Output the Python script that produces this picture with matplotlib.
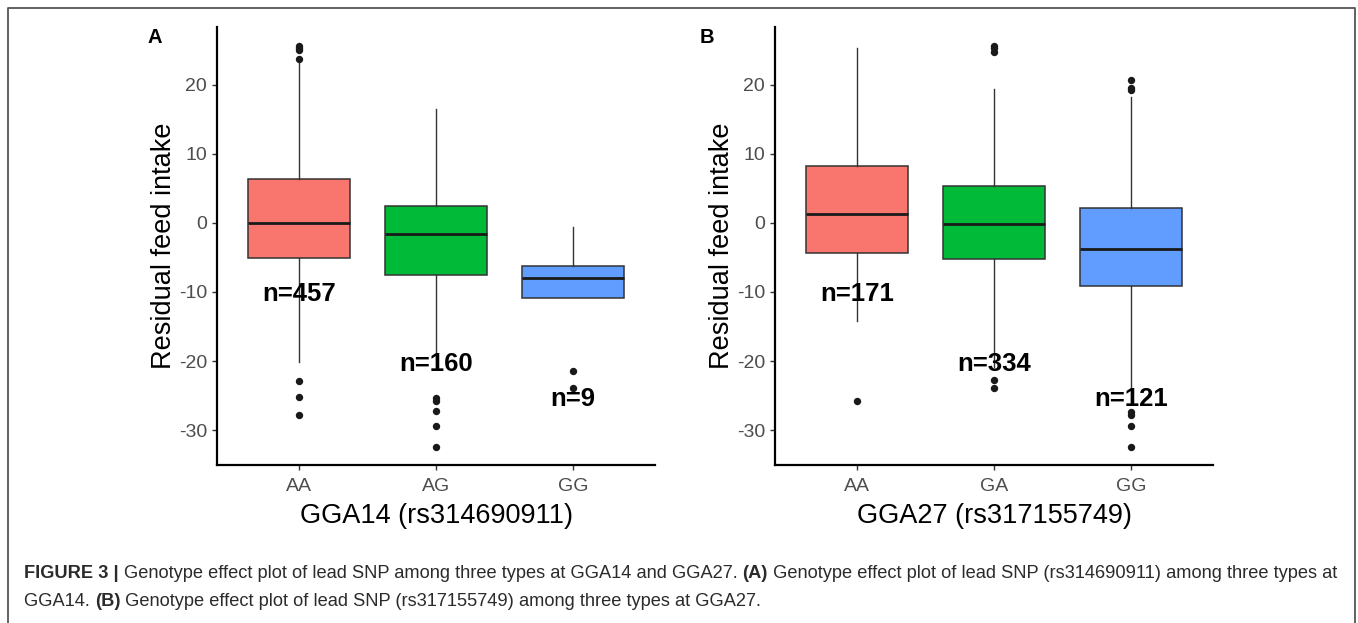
import matplotlib
matplotlib.use('Agg')
import matplotlib.pyplot as plt
from matplotlib.lines import Line2D

plt.rcParams['font.family'] = ['Liberation Sans', 'DejaVu Sans']
plt.rcParams['axes.unicode_minus'] = False

# ---------------- data ----------------
genotypes_a = ['AA', 'AG', 'GG']
a_q1 = [-5.1, -7.5, -10.9]
a_med = [0.0, -1.6, -8.0]
a_q3 = [6.4, 2.5, -6.2]
a_whislo = [-20.1, -20.8, -10.9]
a_whishi = [23.4, 16.5, -0.6]
a_fliers = [[23.8, 25.0, 25.4, 25.7, -22.9, -25.2, -27.8],
            [-25.4, -25.8, -27.3, -29.4, -32.4],
            [-21.4, -23.9]]
a_n = [457, 160, 9]
a_n_y = [-10.3, -20.4, -25.5]
a_xlabel = 'GGA14 (rs314690911)'

genotypes_b = ['AA', 'GA', 'GG']
b_q1 = [-4.3, -5.2, -9.1]
b_med = [1.3, -0.1, -3.8]
b_q3 = [8.3, 5.4, 2.2]
b_whislo = [-14.2, -20.8, -26.0]
b_whishi = [25.4, 19.4, 18.3]
b_fliers = [[-25.8],
            [24.8, 25.4, 25.7, -22.7, -23.9],
            [19.3, 19.6, 20.7, -27.4, -27.8, -29.4, -32.4]]
b_n = [171, 334, 121]
b_n_y = [-10.3, -20.4, -25.5]
b_xlabel = 'GGA27 (rs317155749)'

y_ticks = [-30, -20, -10, 0, 10, 20]
ylabel = 'Residual feed intake'
fill_colors = ['#F8766D', '#00BA38', '#619CFF']

caption_line1 = [('FIGURE 3 | ', 'bold'),
                 ('Genotype effect plot of lead SNP among three types at GGA14 and GGA27. ', 'normal'),
                 ('(A)', 'bold'),
                 (' Genotype effect plot of lead SNP (rs314690911) among three types at', 'normal')]
caption_line2 = [('GGA14. ', 'normal'),
                 ('(B)', 'bold'),
                 (' Genotype effect plot of lead SNP (rs317155749) among three types at GGA27.', 'normal')]

# ---------------- figure ----------------
W, H = 1358, 623
fig = plt.figure(figsize=(W / 100, H / 100), dpi=100)


def px_axes(l, t, r, b):
    return fig.add_axes([l / W, 1 - b / H, (r - l) / W, (b - t) / H])


def draw_panel(ax, cats, q1, med, q3, lo, hi, fliers, ns, n_y, xlabel):
    stats = []
    for c, a, m, b, l, h, f in zip(cats, q1, med, q3, lo, hi, fliers):
        stats.append(dict(label=c, q1=a, med=m, q3=b, whislo=l, whishi=h, fliers=f))
    pos = list(range(1, len(cats) + 1))
    res = ax.bxp(stats, positions=pos, widths=0.75, patch_artist=True,
                 showfliers=True, showcaps=False,
                 boxprops=dict(edgecolor='#333333', linewidth=1.1),
                 medianprops=dict(color='#1a1a1a', linewidth=2.0, solid_capstyle='butt'),
                 whiskerprops=dict(color='#333333', linewidth=1.0),
                 flierprops=dict(marker='o', markerfacecolor='#1a1a1a',
                                 markeredgecolor='#1a1a1a', markersize=4.3))
    for patch, col in zip(res['boxes'], fill_colors):
        patch.set_facecolor(col)
    for p, n, yv in zip(pos, ns, n_y):
        ax.text(p, yv, f'n={n}', ha='center', va='center', fontsize=18.5,
                fontweight='bold', color='black', zorder=10)
    ax.set_xlim(0.4, 3.6)
    ax.set_ylim(-35.07, 28.4)
    ax.set_yticks(y_ticks)
    ax.set_yticklabels([str(v) for v in y_ticks])
    ax.set_xticks(pos)
    ax.set_xticklabels(cats)
    for s in ['top', 'right']:
        ax.spines[s].set_visible(False)
    for s in ['left', 'bottom']:
        ax.spines[s].set_linewidth(1.6)
        ax.spines[s].set_color('black')
    ax.tick_params(axis='both', length=3.6, width=1.0, color='#333333',
                   labelsize=14, labelcolor='#4d4d4d')
    ax.tick_params(axis='y', pad=3.5)
    ax.tick_params(axis='x', pad=5.5)
    ax.set_xlabel(xlabel, fontsize=19.5, color='black')
    ax.set_ylabel(ylabel, fontsize=19.5, color='black')
    ax.yaxis.set_label_coords(-0.092, 0.5)
    ax.xaxis.set_label_coords(0.5, -0.087)
    ax.set_facecolor('white')


axA = px_axes(217, 27, 655, 465)
draw_panel(axA, genotypes_a, a_q1, a_med, a_q3, a_whislo, a_whishi, a_fliers,
           a_n, a_n_y, a_xlabel)
axB = px_axes(775, 27, 1213, 465)
draw_panel(axB, genotypes_b, b_q1, b_med, b_q3, b_whislo, b_whishi, b_fliers,
           b_n, b_n_y, b_xlabel)

fig.text(155 / W, 1 - 43 / H, 'A', ha='center', va='baseline', fontsize=14.5,
         fontweight='bold')
fig.text(707 / W, 1 - 43 / H, 'B', ha='center', va='baseline', fontsize=14.5,
         fontweight='bold')

# border (open at the bottom)
border = Line2D([8 / W, 8 / W, 1355 / W, 1355 / W],
                [0, 1 - 8 / H, 1 - 8 / H, 0], transform=fig.transFigure,
                color='#555555', linewidth=1.3)
fig.add_artist(border)

# caption drawn piece by piece
renderer = fig.canvas.get_renderer()
cap_color = '#2b2b2b'


def line_width(pieces, size):
    total = 0
    for txt, wt in pieces:
        t = fig.text(0, 0, txt, fontsize=size, fontweight=wt)
        total += t.get_window_extent(renderer).width
        t.remove()
    return total


base_size = 12
w1 = line_width(caption_line1, base_size)
cap_size = base_size * (1316 / w1)


def draw_line(pieces, x0, baseline):
    x = x0
    for txt, wt in pieces:
        t = fig.text(x / W, 1 - baseline / H, txt, fontsize=cap_size,
                     fontweight=wt, color=cap_color, ha='left', va='baseline')
        x += t.get_window_extent(renderer).width


draw_line(caption_line1, 24, 578)
draw_line(caption_line2, 24, 606)

fig.savefig('out.png', dpi=100, facecolor='white')
